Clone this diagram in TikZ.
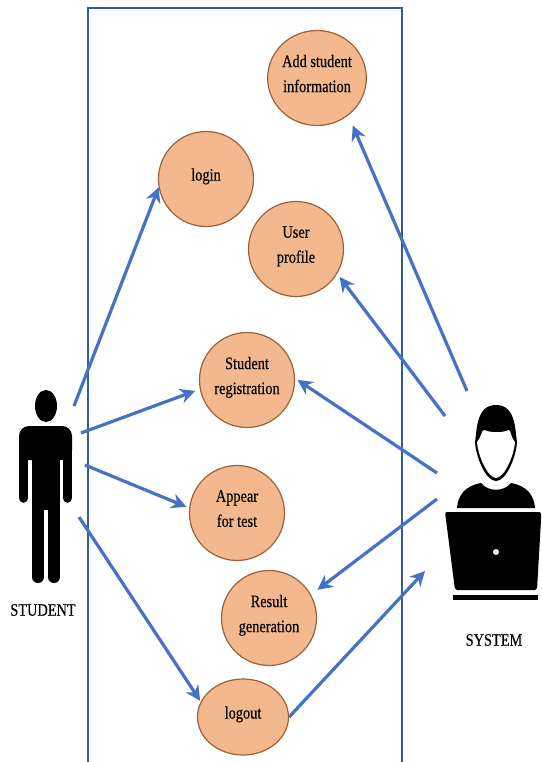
\documentclass[tikz,border=0pt]{standalone}
\usepackage{fontspec}
\newfontfamily\labelfont[FakeStretch=0.82,FakeBold=0.4]{Liberation Serif}
\usetikzlibrary{arrows.meta,shapes.geometric}
\definecolor{ucfill}{HTML}{F4B88F}
\definecolor{ucline}{HTML}{9A6238}
\definecolor{arrowblue}{HTML}{4472C4}
\definecolor{boxblue}{HTML}{2F5F96}
\tikzset{
  usecase/.style={ellipse, draw=ucline, fill=ucfill, line width=1.2pt, minimum width=95pt, minimum height=95pt, inner sep=0pt, align=center, text depth=9pt, font=\labelfont\fontsize{17.5}{25}\selectfont},
  actorlabel/.style={font=\labelfont\fontsize{17.5}{18}\selectfont},
  flow/.style={-{Stealth[length=15pt,width=15pt,inset=5pt]}, arrowblue, line width=3.2pt},
}
\begin{document}
\begin{tikzpicture}[x=1pt,y=-1pt]
\useasboundingbox (0,0) rectangle (541,762);
% system box
\draw [boxblue, line width=1.2pt] (88,762) -- (88,8) -- (402,8) -- (402,762);
% use cases
\node [usecase] (addinfo) at (317,78) {Add student\\information};
\node [usecase] (login) at (206,179) {login};
\node [usecase] (profile) at (296,249) {User\\profile};
\node [usecase] (register) at (247,380) {Student\\registration};
\node [usecase] (appear) at (237,513) {Appear\\for test};
\node [usecase] (result) at (269,618) {Result\\generation};
\node [usecase, minimum width=91pt, minimum height=76pt] (logout) at (243,717) {logout};
% student figure
\fill (46,406) ellipse (11 and 16);
\fill [rounded corners=10] (19,460) -- (19,426) -- (72,426) -- (72,460) -- cycle;
\fill (32,440) rectangle (60,510);
\draw [line width=9.5pt, line cap=round] (23.7,445) -- (23.7,498);
\draw [line width=9.5pt, line cap=round] (67.3,445) -- (67.3,498);
\draw [line width=12pt, line cap=round] (38,500) -- (38,577);
\draw [line width=12pt, line cap=round] (54,500) -- (54,577);
\node [actorlabel] (student) at (43,610) {STUDENT};
% system figure
\fill (475,442) .. controls (477,430) and (476,405) .. (496,405) .. controls (516,405) and (515,430) .. (517,442) .. controls (516,458) and (506,481) .. (496,481) .. controls (486,481) and (476,458) .. (475,442) -- cycle;
\fill [white] (477,442) .. controls (481,438) and (481,431) .. (484,430) .. controls (492,433) and (501,433) .. (509,430) .. controls (511,431) and (511,438) .. (515,442) .. controls (514,456) and (504,478) .. (496,478) .. controls (488,478) and (478,456) .. (477,442) -- cycle;
\fill (457,508) .. controls (458,495) and (465,486) .. (481,483) .. controls (488,492) and (504,492) .. (511,483) .. controls (527,486) and (534,495) .. (535,508) -- cycle;
\fill [rounded corners=2] (445,512) -- (541,512) -- (541,520) -- (537,590) -- (455,590) -- cycle;
\fill (453,595) rectangle (538,600);
\fill [white] (496,552) circle (3);
\node [actorlabel] (system) at (494,640) {SYSTEM};
% free ends
\coordinate (stuA) at (74,406);
\coordinate (stuB) at (81,433);
\coordinate (stuC) at (85,465);
\coordinate (stuD) at (79,517);
\coordinate (sysA) at (467,391);
\coordinate (sysB) at (445,416);
\coordinate (sysC) at (437,473);
\coordinate (sysD) at (437,499);
\coordinate (sysE) at (425,571);
% arrows
\draw [flow] (stuA) -- (login.190);
\draw [flow, shorten >=5pt] (stuB) -- (register.191);
\draw [flow, shorten >=3pt] (stuC) -- (appear.174);
\draw [flow, shorten >=1pt] (stuD) -- (logout.160);
\draw [flow] (logout.east) -- (sysE);
\draw [flow, shorten >=8pt] (sysD) -- (result.29);
\draw [flow, shorten >=3pt] (sysC) -- (register.2);
\draw [flow, shorten >=4pt] (sysB) -- (profile.-31);
\draw [flow, shorten >=11pt] (sysA) -- (addinfo.-50);
\end{tikzpicture}
\end{document}
